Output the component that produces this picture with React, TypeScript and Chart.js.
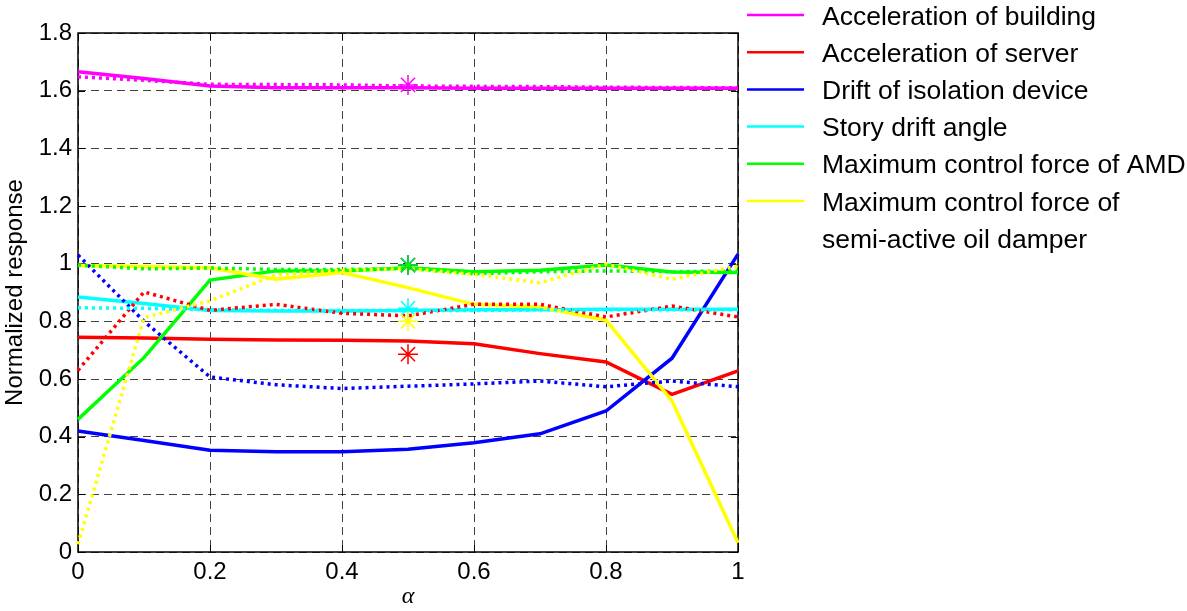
import React, { useEffect, useRef } from "react";
import { Chart, registerables } from "chart.js";

Chart.register(...registerables);

// ---- data ----
const alpha = [0, 0.1, 0.2, 0.3, 0.4, 0.5, 0.6, 0.7, 0.8, 0.9, 1.0];

const accBuildingSolid = [1.666, 1.642, 1.616, 1.61, 1.61, 1.61, 1.608, 1.608, 1.608, 1.608, 1.608];
const accBuildingDotted = [1.648, 1.636, 1.622, 1.621, 1.62, 1.616, 1.615, 1.614, 1.612, 1.611, 1.61];
const accServerSolid = [0.745, 0.742, 0.738, 0.735, 0.734, 0.732, 0.722, 0.688, 0.659, 0.547, 0.628];
const accServerDotted = [0.63, 0.902, 0.838, 0.859, 0.828, 0.819, 0.859, 0.859, 0.815, 0.853, 0.815];
const driftIsoSolid = [0.42, 0.387, 0.353, 0.348, 0.348, 0.356, 0.379, 0.41, 0.489, 0.672, 1.033];
const driftIsoDotted = [1.03, 0.8, 0.607, 0.58, 0.567, 0.575, 0.583, 0.593, 0.573, 0.593, 0.573];
const storyDriftSolid = [0.884, 0.862, 0.838, 0.836, 0.836, 0.838, 0.84, 0.84, 0.842, 0.842, 0.842];
const storyDriftDotted = [0.847, 0.845, 0.84, 0.838, 0.838, 0.838, 0.838, 0.84, 0.84, 0.84, 0.84];
const amdSolid = [0.46, 0.674, 0.943, 0.975, 0.975, 0.986, 0.972, 0.977, 0.995, 0.971, 0.969];
const amdDotted = [0.995, 0.982, 0.985, 0.98, 0.98, 0.983, 0.965, 0.972, 0.975, 0.972, 0.975];
const oilSolid = [0.994, 0.99, 0.986, 0.946, 0.969, 0.917, 0.859, 0.85, 0.804, 0.524, 0.032];
const oilDotted = [0.027, 0.813, 0.871, 0.961, 0.977, 0.983, 0.963, 0.934, 0.998, 0.946, 0.992];

const starAlpha = 0.5;
const starBuilding = 1.62;
const starServer = 0.686;
const starDrift = 0.995;
const starStory = 0.845;
const starAmd = 0.995;
const starOil = 0.8;

const yTicks = [0, 0.2, 0.4, 0.6, 0.8, 1, 1.2, 1.4, 1.6, 1.8];
const xTicks = [0, 0.2, 0.4, 0.6, 0.8, 1];

const legendLabels = [
  ["Acceleration of building"],
  ["Acceleration of server"],
  ["Drift of isolation device"],
  ["Story drift angle"],
  ["Maximum control force of AMD"],
  ["Maximum control force of", "semi-active oil damper"],
];

const colors = ["#FF00FF", "#FF0000", "#0000FF", "#00FFFF", "#00FF00", "#FFFF00"];

const FONT = "'Liberation Sans', Arial, sans-serif";

const toPts = (ys: number[]) => ys.map((y, i) => ({ x: alpha[i], y }));

export default function App() {
  const ref = useRef<HTMLCanvasElement | null>(null);

  useEffect(() => {
    if (!ref.current) return;
    const solids = [accBuildingSolid, accServerSolid, driftIsoSolid, storyDriftSolid, amdSolid, oilSolid];
    const dotted = [accBuildingDotted, accServerDotted, driftIsoDotted, storyDriftDotted, amdDotted, oilDotted];
    const stars = [starBuilding, starServer, starDrift, starStory, starAmd, starOil];

    // paint order: solids, then dotted, then stars (later = on top)
    const paint: any[] = [];
    solids.forEach((d, i) =>
      paint.push({
        data: toPts(d),
        borderColor: colors[i],
        borderWidth: 3.5,
        pointRadius: 0,
        showLine: true,
        fill: false,
        tension: 0,
        clip: false,
      })
    );
    dotted.forEach((d, i) =>
      paint.push({
        data: toPts(d),
        borderColor: colors[i],
        borderWidth: 3.5,
        borderDash: [3, 4],
        borderCapStyle: "butt",
        pointRadius: 0,
        showLine: true,
        fill: false,
        tension: 0,
        clip: false,
      })
    );
    const starOrder = [0, 1, 2, 3, 5, 4];
    starOrder.forEach((i) =>
      paint.push({
        data: [{ x: starAlpha, y: stars[i] }],
        borderColor: colors[i],
        backgroundColor: colors[i],
        pointStyle: "star",
        pointRadius: 10,
        pointBorderWidth: 1.5,
        showLine: false,
        clip: false,
      })
    );
    const N = paint.length;
    paint.forEach((d, k) => (d.order = N - k));

    const frame = {
      id: "frame",
      beforeDatasetsDraw(chart: any) {
        const { ctx, chartArea: a, scales } = chart;
        ctx.save();
        ctx.strokeStyle = "#000";
        ctx.lineWidth = 1.5;
        ctx.setLineDash([]);
        ctx.strokeRect(a.left, a.top, a.right - a.left, a.bottom - a.top);
        ctx.lineWidth = 1;
        const tl = 7;
        xTicks.forEach((v) => {
          const x = Math.round(scales.x.getPixelForValue(v)) + 0.5;
          ctx.beginPath();
          ctx.moveTo(x, a.bottom);
          ctx.lineTo(x, a.bottom - tl);
          ctx.moveTo(x, a.top);
          ctx.lineTo(x, a.top + tl);
          ctx.stroke();
        });
        yTicks.forEach((v) => {
          const y = Math.round(scales.y.getPixelForValue(v)) + 0.5;
          ctx.beginPath();
          ctx.moveTo(a.left, y);
          ctx.lineTo(a.left + tl, y);
          ctx.moveTo(a.right, y);
          ctx.lineTo(a.right - tl, y);
          ctx.stroke();
        });
        ctx.restore();
      },
      afterDraw(chart: any) {
        const { ctx } = chart;
        ctx.save();
        ctx.font = `26.5px ${FONT}`;
        ctx.fillStyle = "#000";
        ctx.textBaseline = "alphabetic";
        ctx.textAlign = "left";
        const rowH = 37.2;
        let row = 0;
        legendLabels.forEach((lines, i) => {
          const y = 15 + rowH * row;
          ctx.strokeStyle = colors[i];
          ctx.lineWidth = 2.5;
          ctx.setLineDash([]);
          ctx.beginPath();
          ctx.moveTo(747, y);
          ctx.lineTo(804, y);
          ctx.stroke();
          lines.forEach((t, j) => {
            ctx.fillText(t, 822, 15 + rowH * (row + j) + 9.5);
          });
          row += lines.length;
        });
        ctx.restore();
      },
    };

    const chart = new Chart(ref.current, {
      type: "scatter",
      data: { datasets: paint },
      options: {
        animation: false,
        responsive: false,
        maintainAspectRatio: false,
        layout: { padding: { top: 33, right: 449, left: 0, bottom: 0 } },
        plugins: { legend: { display: false }, tooltip: { enabled: false } },
        scales: {
          x: {
            type: "linear",
            min: 0,
            max: 1,
            afterBuildTicks: (s: any) => {
              s.ticks = xTicks.map((v) => ({ value: v }));
            },
            afterFit: (s: any) => {
              s.height = 59;
            },
            ticks: {
              padding: 6,
              color: "#000",
              font: { family: FONT, size: 24 },
              callback: (v: any) => String(Number(Number(v).toFixed(1))),
            },
            grid: {
              color: "rgba(0,0,0,0.75)",
              lineWidth: 1,
              drawTicks: false,
            },
            border: { display: false, dash: [8, 5] },
            title: {
              display: true,
              text: "α",
              color: "#000",
              padding: { top: 0, bottom: 0 },
              font: { family: "'Liberation Serif', 'Times New Roman', serif", size: 24, style: "italic" },
            },
          },
          y: {
            type: "linear",
            min: 0,
            max: 1.8,
            afterBuildTicks: (s: any) => {
              s.ticks = yTicks.map((v) => ({ value: v }));
            },
            afterFit: (s: any) => {
              s.width = 78;
            },
            ticks: {
              padding: 6,
              color: "#000",
              font: { family: FONT, size: 24 },
              callback: (v: any) => String(Number(Number(v).toFixed(1))),
            },
            grid: {
              color: "rgba(0,0,0,0.75)",
              lineWidth: 1,
              drawTicks: false,
            },
            border: { display: false, dash: [8, 5] },
            title: {
              display: true,
              text: "Normalized response",
              color: "#000",
              padding: { top: 1, bottom: 0 },
              font: { family: FONT, size: 24 },
            },
          },
        },
      },
      plugins: [frame],
    } as any);
    return () => chart.destroy();
  }, []);

  return (
    <div style={{ position: "fixed", left: 0, top: 0, width: 1187, height: 611, background: "#fff" }}>
      <canvas ref={ref} width={1187} height={611} style={{ width: 1187, height: 611, display: "block" }} />
    </div>
  );
}
